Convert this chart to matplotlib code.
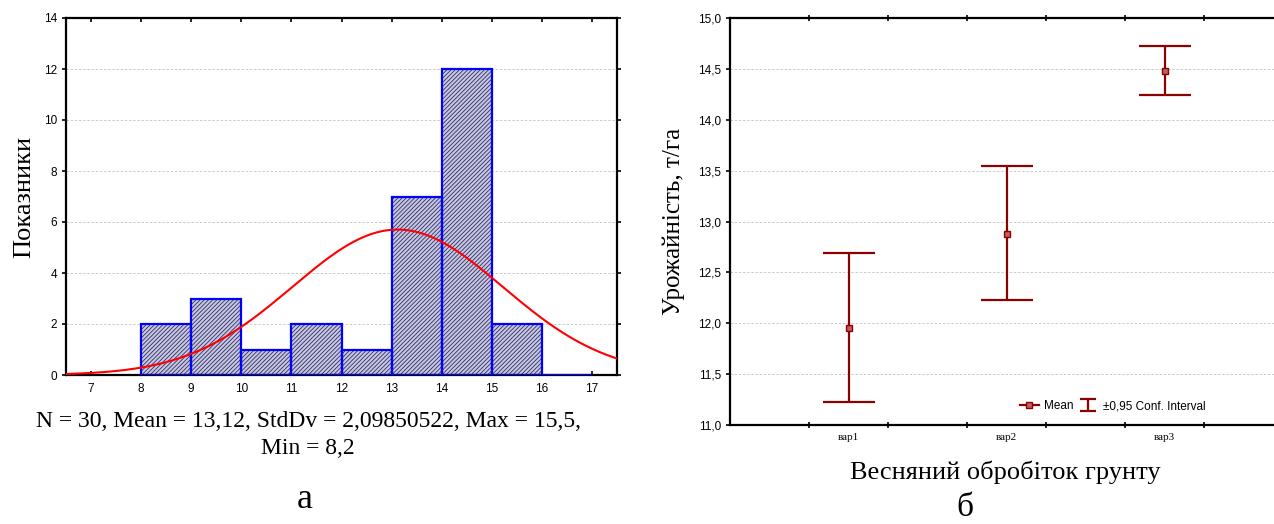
import numpy as np
import matplotlib
matplotlib.use("Agg")
import matplotlib.pyplot as plt
from matplotlib.lines import Line2D

# histogram (a)
bin_left = [8, 9, 10, 11, 12, 13, 14, 15, 16]
counts = [2, 3, 1, 2, 1, 7, 12, 2, 0]
n_obs = 30
mean_val = 13.12
std_val = 2.09850522

# means with 0.95 CI (b)
groups = ["вар1", "вар2", "вар3"]
means = np.array([11.95, 12.88, 14.48])
ci_low = np.array([11.23, 12.23, 14.245])
ci_high = np.array([12.69, 13.55, 14.725])

serif = ["Liberation Serif", "DejaVu Serif"]
sans = ["Liberation Sans", "DejaVu Sans"]
dark_red = "#8b0000"

plt.rcParams["hatch.linewidth"] = 0.6
fig = plt.figure(figsize=(12.74, 5.24), dpi=100)

# ---- left: histogram ----
ax1 = fig.add_axes([66 / 1274, 1 - 375 / 524, 551 / 1274, 357 / 524])
ax1.bar(bin_left, counts, width=1, align="edge", facecolor="#c8c8dc",
        edgecolor="#2e2e72", hatch="////////", linewidth=0, zorder=2)
ax1.bar(bin_left, counts, width=1, align="edge", facecolor="none",
        edgecolor="#0000ff", linewidth=1.6, zorder=3)
xs = np.linspace(6.5, 17.5, 300)
ys = n_obs * np.exp(-0.5 * ((xs - mean_val) / std_val) ** 2) / (std_val * np.sqrt(2 * np.pi))
ax1.plot(xs, ys, color="#ff0000", lw=1.5, zorder=4)
ax1.set_xlim(6.5, 17.5)
ax1.set_ylim(0, 14)
ax1.set_xticks(range(7, 18))
ax1.set_yticks(range(0, 15, 2))
ax1.yaxis.grid(True, linestyle=(0, (3, 2)), color="#c4c4c4", lw=0.6, zorder=0)
ax1.set_axisbelow(True)
ax1.set_ylabel("Показники", family=serif, fontsize=19, labelpad=6)
ax1.tick_params(axis="both", labelsize=8.5, width=1.2, length=3)
ax1.tick_params(axis="x", direction="in", top=True, pad=6)
ax1.tick_params(axis="y", direction="out", right=True)
for lab in ax1.get_xticklabels() + ax1.get_yticklabels():
    lab.set_family(sans)
for s in ax1.spines.values():
    s.set_linewidth(1.6)

fig.text(308 / 1274, 1 - 435 / 524,
         "N = 30, Mean = 13,12, StdDv = 2,09850522, Max = 15,5,\nMin = 8,2",
         family=serif, fontsize=17, ha="center", va="center",
         linespacing=1.4, multialignment="center")
fig.text(305 / 1274, 1 - 500 / 524, "а", family=serif, fontsize=26,
         ha="center", va="center")

# ---- right: means with CI ----
ax2 = fig.add_axes([730 / 1274, 1 - 425 / 524, 553 / 1274, 407 / 524])
xpos = np.arange(1, len(groups) + 1)
ax2.errorbar(xpos, means, yerr=[means - ci_low, ci_high - means], fmt="s",
             color=dark_red, ecolor=dark_red, elinewidth=1.6, capsize=19,
             capthick=1.6, ms=4.5, mfc="#c06060", mec=dark_red, zorder=3)
ax2.set_xlim(0.25, 3.75)
ax2.set_ylim(11, 15)
ax2.set_xticks(xpos)
ax2.set_xticklabels(groups, family=serif, fontsize=8)
ax2.set_xticks(np.arange(0.75, 3.8, 0.5), minor=True)
ax2.set_yticks(np.arange(11, 15.01, 0.5))
ax2.set_yticklabels([f"{v:.1f}".replace(".", ",") for v in np.arange(11, 15.01, 0.5)],
                    family=sans, fontsize=8.5)
ax2.yaxis.grid(True, linestyle=(0, (3, 2)), color="#c4c4c4", lw=0.6, zorder=0)
ax2.set_axisbelow(True)
ax2.tick_params(axis="x", which="major", length=0, pad=6)
ax2.tick_params(axis="x", which="minor", direction="inout", top=True,
                length=5, width=1.2)
ax2.tick_params(axis="y", direction="out", length=3, width=1.2)
for s in ax2.spines.values():
    s.set_linewidth(1.6)
ax2.set_ylabel("Урожайність, т/га", family=serif, fontsize=18, labelpad=9)

h_mean = Line2D([], [], color=dark_red, lw=1.6, marker="s", ms=4.5,
                mfc="#c06060", mec=dark_red)
h_ci = ax2.errorbar([-5], [12], yerr=[0.5], fmt="none", ecolor=dark_red,
                    elinewidth=1.6, capsize=6, capthick=1.6)
ax2.legend([h_mean, h_ci], ["Mean", "±0,95 Conf. Interval"], ncol=2,
           loc="lower left", bbox_to_anchor=(0.505, 0.005), frameon=False,
           prop={"family": sans, "size": 8.5}, handlelength=1.6,
           handletextpad=0.4, columnspacing=0.5)

fig.text(1005 / 1274, 1 - 472 / 524, "Весняний обробіток грунту",
         family=serif, fontsize=19, ha="center", va="center")
fig.text(965 / 1274, 1 - 508 / 524, "б", family=serif, fontsize=24,
         ha="center", va="center")

fig.savefig("out.png", dpi=100)
